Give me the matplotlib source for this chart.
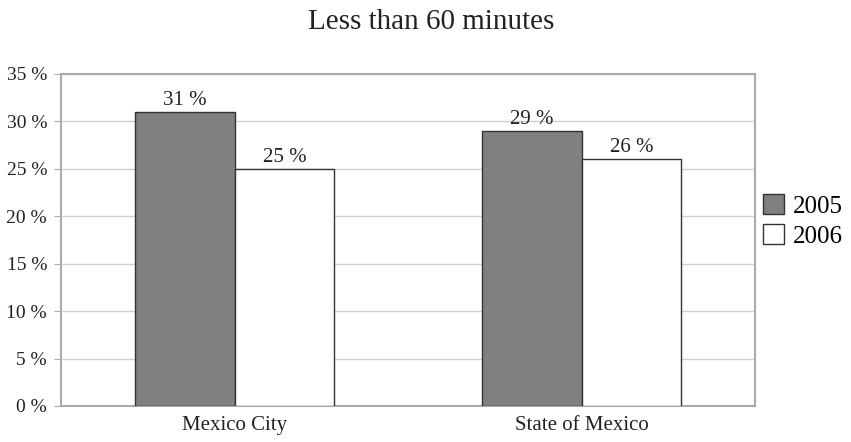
import matplotlib
matplotlib.use("Agg")
import matplotlib.pyplot as plt
import numpy as np

categories = ["Mexico City", "State of Mexico"]
years = ["2005", "2006"]
values_2005 = [31, 29]
values_2006 = [25, 26]
yticks = [0, 5, 10, 15, 20, 25, 30, 35]

plt.rcParams['font.family'] = ['Liberation Serif', 'DejaVu Serif']

fig = plt.figure(figsize=(8.51, 4.42), dpi=100)
ax = fig.add_axes([61/851, 1-406/442, (755-61)/851, (406-74)/442])

x = np.arange(len(categories))
w = 0.288
b1 = ax.bar(x - w/2, values_2005, w, color='#808080', edgecolor='#333333', linewidth=1.0, label=years[0], zorder=3)
b2 = ax.bar(x + w/2, values_2006, w, color='white', edgecolor='#333333', linewidth=1.0, label=years[1], zorder=3)

for bars, vals in ((b1, values_2005), (b2, values_2006)):
    for r, v in zip(bars, vals):
        ax.text(r.get_x() + r.get_width()/2, v + 0.2, f"{v} %", ha='center', va='bottom', fontsize=15, color='#222222')

ax.set_xlim(-0.5, 1.5)
ax.set_ylim(0, 35)
ax.set_yticks(yticks)
ax.set_yticklabels([f"{t} %" for t in yticks], fontsize=14, color='#222222')
ax.set_xticks(x)
ax.set_xticklabels(categories, fontsize=15, color='#222222')
ax.tick_params(axis='x', length=0, pad=7)
ax.tick_params(axis='y', length=5, color='#aaaaaa', pad=5)
ax.yaxis.grid(True, color='#d0d0d0', linewidth=1, zorder=0)
for s in ax.spines.values():
    s.set_color('#aaaaaa')
    s.set_linewidth(1.5)

fig.text(431/851, 1-22/442, "Less than 60 minutes", fontsize=21, ha='center', va='center', color='#222222')

leg = fig.legend(handles=[b1, b2], labels=years, loc='center left', bbox_to_anchor=(760/851, 1-221/442),
                 frameon=False, fontsize=18, handlelength=0.85, handleheight=0.85, handletextpad=0.35,
                 labelspacing=0.25, borderpad=0.1, borderaxespad=0.0)

fig.savefig("out.png", dpi=100)
